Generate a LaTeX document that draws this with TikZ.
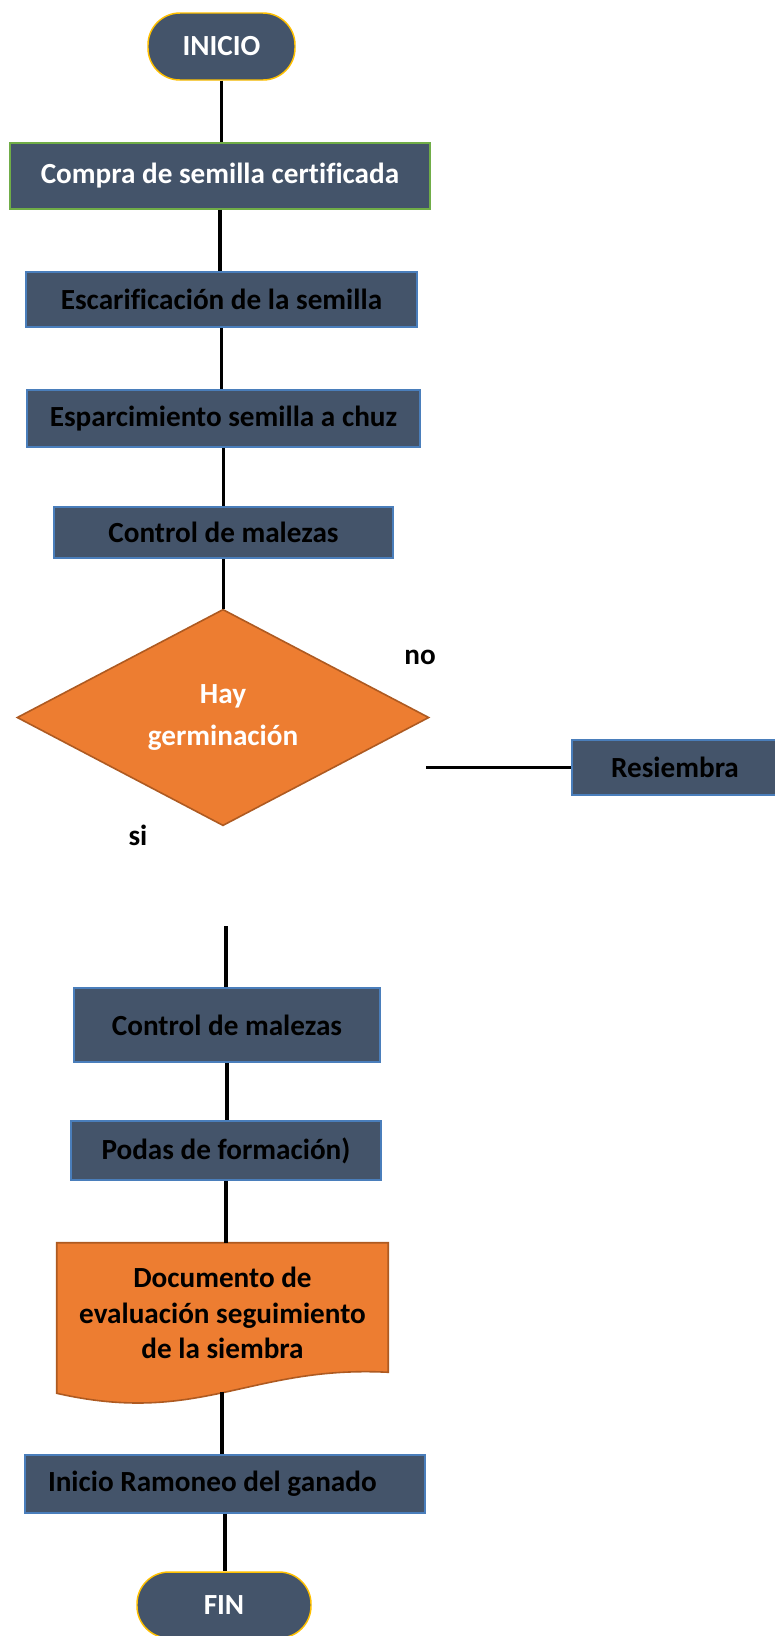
\documentclass[tikz,border=0pt]{standalone}
\usepackage{fontspec}
\setmainfont{Carlito}[Ligatures=NoCommon]
\usetikzlibrary{shapes.geometric,calc}
\definecolor{slate}{HTML}{44546A}
\definecolor{bluebd}{HTML}{4A7EBB}
\definecolor{greenbd}{HTML}{70AD47}
\definecolor{goldbd}{HTML}{FFC000}
\definecolor{orangefill}{HTML}{ED7D31}
\definecolor{orangebd}{HTML}{AE5A21}
\newdimen\pxu
\pxu=0.75pt
\begin{document}
\begin{tikzpicture}[x=0.75pt,y=-0.75pt,
  every node/.style={font=\fontsize{21.9}{26.6}\selectfont\bfseries, inner sep=0pt},
  procbox/.style={draw=bluebd, line width=1.2pt, fill=slate, text=black, rectangle},
  termbox/.style={draw=goldbd, line width=1.1pt, fill=slate, text=white, rectangle, rounded corners=24pt},
  decbox/.style={diamond, draw=orangebd, line width=1.2pt, fill=orangefill, text=white, align=center},
  conn/.style={draw=black, line width=2.3pt},
  lbl/.style={text=black}]
\clip (0,0) rectangle (775,1636);
\fill[white] (0,0) rectangle (775,1636);

\node[termbox, minimum width=147\pxu, minimum height=67\pxu] (inicio) at (221.5,46.5) {INICIO};
\node[procbox, draw=greenbd, text=white, minimum width=420\pxu, minimum height=66\pxu] (compra) at (220,176) {Compra de semilla certificada};
\node[procbox, minimum width=391\pxu, minimum height=55\pxu] (esc) at (221.5,299.5) {Escarificación de la semilla};
\node[procbox, minimum width=393\pxu, minimum height=57\pxu] (esp) at (223.5,418.5) {Esparcimiento semilla a chuz};
\node[procbox, minimum width=339\pxu, minimum height=51\pxu] (ctrla) at (223.5,532.5) {Control de malezas};
\node[decbox, minimum width=412\pxu, minimum height=191\pxu] (dec) at (223,717.5) {Hay\\[5pt]germinación};
\node[procbox, minimum width=206\pxu, minimum height=55\pxu] (res) at (675,767.5) {Resiembra};
\node[lbl] (no) at (420,657) {no};
\node[lbl] (si) at (138,835) {si};
\node[procbox, minimum width=306\pxu, minimum height=74\pxu] (ctrlb) at (227,1025) {Control de malezas};
\node[procbox, minimum width=310\pxu, minimum height=59\pxu] (podas) at (226,1150.5) {Podas de formación)};

% document shape
\node[minimum width=331\pxu, minimum height=140\pxu, align=center, text=black] (doc) at (222.5,1313) {};
\path[fill=orangefill, draw=orangebd, line width=1.2pt]
  (doc.north west) -- (doc.north east) -- ($(doc.south east)+(0,-11)$)
  .. controls (250,1365) and (200,1426) .. ($(doc.south west)+(0,10)$) -- cycle;
\node[align=center, text=black] (doctext) at (doc.center) {Documento de\\evaluación seguimiento\\de la siembra};

\node[procbox, minimum width=400\pxu, minimum height=58\pxu, text width=354\pxu, align=flush left] (ram) at (225,1484) {Inicio Ramoneo del ganado};
\node[termbox, minimum width=174\pxu, minimum height=66\pxu] (fin) at (224,1605) {FIN};

\coordinate (noend) at (426,767.5);
\coordinate (sitop) at (226,926);
\coordinate (docb) at (222,1392);

\draw[conn] (inicio.south) -- (inicio.south |- compra.north);
\draw[conn] (compra.south) -- (compra.south |- esc.north);
\draw[conn] (esc.south) -- (esc.south |- esp.north);
\draw[conn] (esp.south) -- (esp.south |- ctrla.north);
\draw[conn] (ctrla.south) -- (ctrla.south |- dec.north);
\draw[conn] (noend) -- (res.west);
\draw[conn] (sitop) -- (sitop |- ctrlb.north);
\draw[conn] (ctrlb.south) -- (ctrlb.south |- podas.north);
\draw[conn] (podas.south) -- (podas.south |- doc.north);
\draw[conn] (docb) -- (docb |- ram.north);
\draw[conn] (ram.south) -- (ram.south |- fin.north);
\end{tikzpicture}
\end{document}
